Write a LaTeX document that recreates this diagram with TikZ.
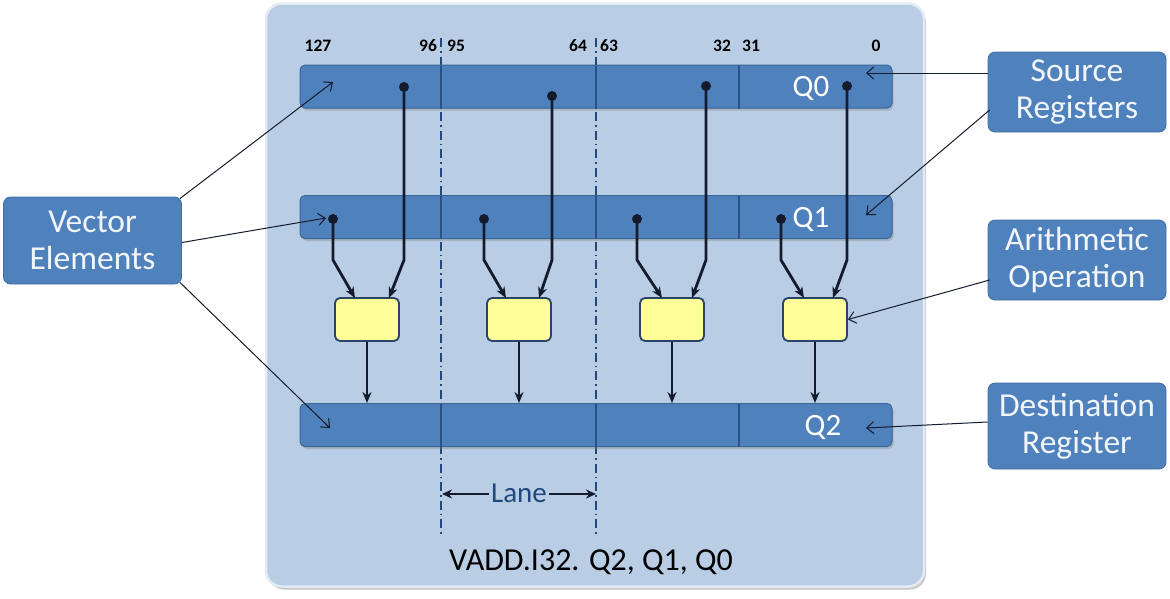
\documentclass[tikz,border=0pt]{standalone}
\usepackage{fontspec}
\setmainfont{Carlito}
\usetikzlibrary{arrows.meta,shadows}
\definecolor{panelfill}{HTML}{B9CDE5}
\definecolor{panelrim}{HTML}{E3EBF5}
\definecolor{regblue}{HTML}{4F81BD}
\definecolor{regedge}{HTML}{3B6596}
\definecolor{divline}{HTML}{2C5282}
\definecolor{opyellow}{HTML}{FFFF99}
\definecolor{opedge}{HTML}{2A4468}
\definecolor{wirecol}{HTML}{141B2D}
\definecolor{lanecol}{HTML}{1F497D}
\definecolor{calltext}{HTML}{F2F6FB}
\begin{document}
\begin{tikzpicture}[x=1pt,y=-1pt,
  panelbox/.style={draw=panelrim, line width=2.5pt, fill=panelfill, rounded corners=16pt,
    minimum width=658pt, minimum height=583pt, inner sep=0pt,
    drop shadow={shadow xshift=2pt, shadow yshift=-3pt, opacity=0.45}},
  regbar/.style={draw=regedge, fill=regblue, line width=1pt, rounded corners=5pt,
    minimum width=592pt, minimum height=43pt, inner sep=0pt,
    drop shadow={shadow xshift=1.5pt, shadow yshift=-2.5pt, opacity=0.35}},
  divider/.style={draw=divline, line width=1.8pt},
  callout/.style={draw=regblue!85!black, fill=regblue, line width=0.8pt, rounded corners=7pt,
    text=calltext, minimum width=178pt, inner sep=0pt, align=center,
    font=\fontsize{33.5}{37}\selectfont},
  opbox/.style={draw=opedge, fill=opyellow, line width=1.8pt, rounded corners=5pt,
    minimum width=64pt, minimum height=43pt, inner sep=0pt},
  wiredot/.style={circle, fill=wirecol, inner sep=0pt, minimum size=10pt},
  wire/.style={draw=wirecol, line width=2.8pt, -{Stealth[length=11pt,width=9pt]}},
  pointer/.style={draw=wirecol, line width=1pt, -{Straight Barb[length=7pt,width=12pt]}},
  laneline/.style={draw=lanecol, line width=1.1pt, dash pattern=on 9pt off 4pt on 1.5pt off 4pt},
  bitlbl/.style={font=\bfseries\fontsize{17.5}{17.5}\selectfont, text=black, inner sep=0pt},
  reglbl/.style={font=\fontsize{31}{31}\selectfont, text=white, inner sep=0pt},
  lanearrow/.style={draw=wirecol, line width=2.8pt, -{Stealth[length=10pt,width=9pt]}},
]
\useasboundingbox (0,0) rectangle (1170,598);

% panel
\node[panelbox] (panel) at (595,295) {};

% lane separators
\draw[laneline] (441,38) -- (441,536);
\draw[laneline] (596,38) -- (596,536);

% registers
\node[regbar] (q0) at (596,86.5) {};
\node[regbar] (q1) at (596,217) {};
\node[regbar] (q2) at (596,425) {};
\foreach \r in {q0,q1,q2}{
  \foreach \x in {441,596,739}{
    \draw[divider] (\r.north west -| \x,0) ++(0,1) -- (\r.south west -| \x,0) ++(0,-1);
  }
}

% bit numbers
\node[bitlbl] (b127) at (318,46) {127};
\node[bitlbl] (b96) at (428,46) {96};
\node[bitlbl] (b95) at (456,46) {95};
\node[bitlbl] (b64) at (578,46) {64};
\node[bitlbl] (b63) at (609,46) {63};
\node[bitlbl] (b32) at (722,46) {32};
\node[bitlbl] (b31) at (751,46) {31};
\node[bitlbl] (b0) at (876,46) {0};

% register names
\node[reglbl] (nq0) at (811,88) {Q0};
\node[reglbl] (nq1) at (811,219) {Q1};
\node[reglbl] (nq2) at (823,427) {Q2};

% lanes: operation boxes and wiring
\foreach \i/\L/\a/\b/\by/\ea/\eb in {1/335/333/404/87/355/389, 2/487/484/552/96/506/539, 3/640/637/706/86/662/692, 4/783/781/847/86/804/833}{
  \node[opbox] (op\i) at (\L+32,319.5) {};
  \node[wiredot] (s1d\i) at (\a,219) {};
  \node[wiredot] (s0d\i) at (\b,\by) {};
  \coordinate (k1\i) at (\a,260);
  \coordinate (k0\i) at (\b,260);
  \coordinate (e1\i) at (\ea,298);
  \coordinate (e0\i) at (\eb,298);
  \draw[wire] (s1d\i.center) -- (k1\i) -- (e1\i);
  \draw[wire] (s0d\i.center) -- (k0\i) -- (e0\i);
  \draw[wire] (op\i.south) -- (op\i.south |- q2.north);
}

% lane marker
\node[font=\fontsize{29}{29}\selectfont, text=lanecol, inner sep=2pt] (lane) at (519,493) {Lane};
\coordinate (laneL) at (442,494);
\coordinate (laneR) at (596,494);
\draw[lanearrow] (lane.west |- laneL) -- (laneL);
\draw[lanearrow] (lane.east |- laneR) -- (laneR);

% instruction
\node[font=\fontsize{32}{32}\selectfont, text=black, inner sep=0pt] (instr) at (591,562) {VADD.I32. Q2, Q1, Q0};

% callouts
\node[callout, minimum height=87pt] (ve) at (92.5,240.5) {Vector\\Elements};
\node[callout, minimum height=80pt] (sr) at (1077,92) {Source\\Registers};
\node[callout, minimum height=80pt] (ao) at (1077,260) {Arithmetic\\Operation};
\node[callout, minimum height=86pt] (dr) at (1077,426) {Destination\\Register};

% pointer targets
\coordinate (tq0a) at (333,82);
\coordinate (tq1a) at (326,218);
\coordinate (tq2a) at (330,428);
\coordinate (tq0b) at (866,73);
\coordinate (tq1b) at (866,215);
\coordinate (tq2b) at (866,428);

\draw[pointer] ([xshift=-2pt,yshift=-2pt]ve.north east) -- (tq0a);
\draw[pointer] ([yshift=-2pt]ve.east) -- (tq1a);
\draw[pointer] ([xshift=-2pt,yshift=2pt]ve.south east) -- (tq2a);
\draw[pointer] ([yshift=19pt]sr.west) -- (tq0b);
\draw[pointer] ([xshift=2pt,yshift=-18pt]sr.west) -- (tq1b);
\draw[pointer] ([xshift=2pt,yshift=-20pt]ao.west) -- (op4.east);
\draw[pointer] ([yshift=4pt]dr.west) -- (tq2b);
\end{tikzpicture}
\end{document}
